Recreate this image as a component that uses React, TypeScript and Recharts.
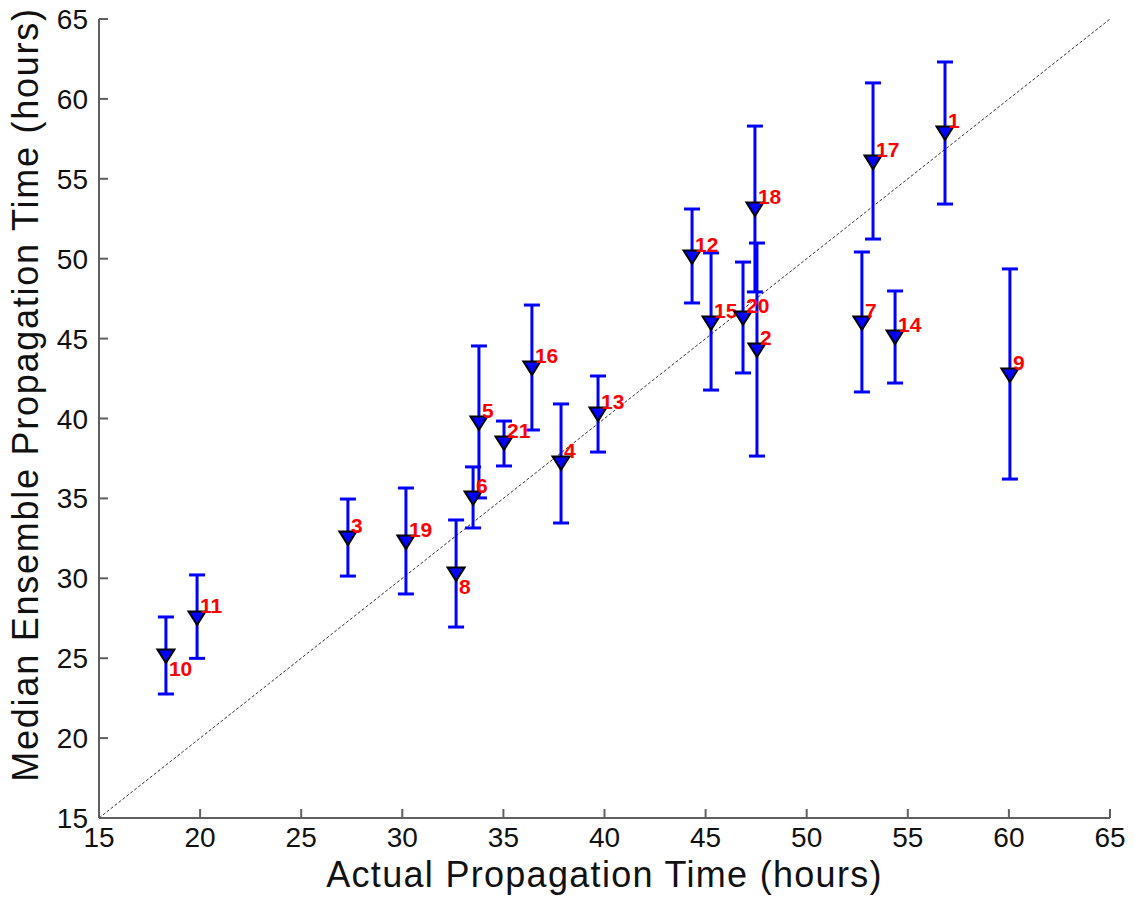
import React from 'react';
import {
  ScatterChart, Scatter, XAxis, YAxis, ErrorBar, ReferenceLine,
} from 'recharts';

// event number, actual time, median ensemble time, ensemble spread (low / high)
const eventIds = [1, 2, 3, 4, 5, 6, 7, 8, 9, 10, 11, 12, 13, 14, 15, 16, 17, 18, 19, 20, 21];
const actualHours = [
  56.84, 47.54, 27.31, 37.85, 33.79, 33.5, 52.73, 32.66, 60.05, 18.31, 19.85,
  44.33, 39.68, 54.37, 45.27, 36.41, 53.28, 47.44, 30.18, 46.85, 35.03,
];
const medianHours = [
  57.87, 44.29, 32.52, 37.22, 39.72, 35.03, 45.98, 30.27, 42.72, 25.14, 27.52,
  50.11, 40.28, 45.1, 45.98, 43.16, 56.05, 53.11, 32.27, 46.29, 38.47,
];
const lowerHours = [
  53.42, 37.65, 30.14, 33.46, 35.03, 33.15, 41.66, 26.95, 36.21, 22.76, 24.99,
  47.23, 37.9, 42.22, 41.78, 39.28, 51.23, 47.92, 29.02, 42.85, 37.03,
];
const upperHours = [
  62.31, 50.98, 34.96, 40.91, 44.54, 36.97, 50.42, 33.65, 49.36, 27.58, 30.21,
  53.11, 42.66, 47.98, 50.36, 47.1, 61.0, 58.3, 35.65, 49.79, 39.84,
];
const axisTicks = [15, 20, 25, 30, 35, 40, 45, 50, 55, 60, 65];
// labels that sit under the marker instead of above it
const labelsBelow = [10, 8];

const data = eventIds.map((id, i) => ({
  id,
  x: actualHours[i],
  y: medianHours[i],
  err: [medianHours[i] - lowerHours[i], upperHours[i] - medianHours[i]],
}));

const FONT = '"Liberation Sans", Arial, Helvetica, sans-serif';
const AXIS_COLOR = '#606060';
const TICK_LEN = 9;

const TriangleMarker = (props: any) => {
  const { cx, cy, payload } = props;
  if (cx == null || cy == null) return null;
  const below = labelsBelow.includes(payload.id);
  return (
    <g>
      <polygon
        points={`${cx - 8.5},${cy - 6.5} ${cx + 8.5},${cy - 6.5} ${cx},${cy + 7}`}
        fill="#0000ff"
        stroke="#000"
        strokeWidth={2}
      />
      <text
        x={cx + 3}
        y={below ? cy + 20 : cy - 5}
        fill="#ff0000"
        fontFamily={FONT}
        fontWeight="bold"
        fontSize={21}
      >
        {payload.id}
      </text>
    </g>
  );
};

const BottomTick = (props: any) => {
  const { x, y, payload } = props;
  return (
    <g>
      <line x1={x} y1={y} x2={x} y2={y - TICK_LEN} stroke={AXIS_COLOR} strokeWidth={2} />
      <text x={x} y={y + 29} textAnchor="middle" fill="#111" fontFamily={FONT} fontSize={28}>
        {payload.value}
      </text>
    </g>
  );
};

const LeftTick = (props: any) => {
  const { x, y, payload } = props;
  return (
    <g>
      <line x1={x} y1={y} x2={x + TICK_LEN} y2={y} stroke={AXIS_COLOR} strokeWidth={2} />
      <text x={x - 11} y={y + 10} textAnchor="end" fill="#111" fontFamily={FONT} fontSize={28}>
        {payload.value}
      </text>
    </g>
  );
};

const TopTick = (props: any) => {
  const { x, y } = props;
  return <line x1={x} y1={y} x2={x} y2={y + TICK_LEN} stroke={AXIS_COLOR} strokeWidth={2} />;
};

const RightTick = (props: any) => {
  const { x, y } = props;
  return <line x1={x} y1={y} x2={x - TICK_LEN} y2={y} stroke={AXIS_COLOR} strokeWidth={2} />;
};

const XTitle = (props: any) => {
  const vb = props.viewBox;
  return (
    <text
      x={vb.x + vb.width / 2}
      y={vb.y + 69}
      textAnchor="middle"
      fill="#111"
      fontFamily={FONT}
      fontSize={36}
      letterSpacing={1.3}
    >
      Actual Propagation Time (hours)
    </text>
  );
};

const YTitle = (props: any) => {
  const vb = props.viewBox;
  const cx = 38;
  const cy = vb.y + vb.height / 2 - 24;
  return (
    <text
      x={cx}
      y={cy}
      transform={`rotate(-90, ${cx}, ${cy})`}
      textAnchor="middle"
      fill="#111"
      fontFamily={FONT}
      fontSize={36}
      letterSpacing={1.75}
    >
      Median Ensemble Propagation Time (hours)
    </text>
  );
};

const App: React.FC = () => {
  return (
    <div style={{ position: 'absolute', left: 0, top: 0, width: 1135, height: 902, background: '#fff' }}>
      <ScatterChart width={1135} height={902} margin={{ top: 19, right: 25, bottom: 0, left: 0 }}>
        <XAxis
          type="number"
          dataKey="x"
          domain={[15, 65]}
          ticks={axisTicks}
          height={84}
          tickSize={0}
          tickMargin={0}
          tickLine={false}
          tick={<BottomTick />}
          axisLine={{ stroke: AXIS_COLOR, strokeWidth: 2 }}
          allowDataOverflow
          label={<XTitle />}
        />
        <XAxis
          xAxisId="top"
          orientation="top"
          type="number"
          domain={[15, 65]}
          ticks={axisTicks}
          height={0}
          tickSize={0}
          tickMargin={0}
          tickLine={false}
          tick={<TopTick />}
          axisLine={{ stroke: AXIS_COLOR, strokeWidth: 2 }}
          allowDataOverflow
        />
        <YAxis
          type="number"
          dataKey="y"
          domain={[15, 65]}
          ticks={axisTicks}
          width={99}
          tickSize={0}
          tickMargin={0}
          tickLine={false}
          tick={<LeftTick />}
          axisLine={{ stroke: AXIS_COLOR, strokeWidth: 2 }}
          allowDataOverflow
          label={<YTitle />}
        />
        <YAxis
          yAxisId="right"
          orientation="right"
          type="number"
          domain={[15, 65]}
          ticks={axisTicks}
          width={0}
          tickSize={0}
          tickMargin={0}
          tickLine={false}
          tick={<RightTick />}
          axisLine={{ stroke: AXIS_COLOR, strokeWidth: 2 }}
          allowDataOverflow
        />
        <ReferenceLine
          segment={[{ x: 15, y: 15 }, { x: 65, y: 65 }]}
          stroke="#333"
          strokeWidth={1}
          strokeDasharray="3 2"
        />
        <Scatter data={data} shape={<TriangleMarker />} isAnimationActive={false}>
          <ErrorBar
            dataKey="err"
            direction="y"
            width={8}
            stroke="#0000ff"
            strokeWidth={3}
            isAnimationActive={false}
          />
        </Scatter>
      </ScatterChart>
    </div>
  );
};

export default App;
